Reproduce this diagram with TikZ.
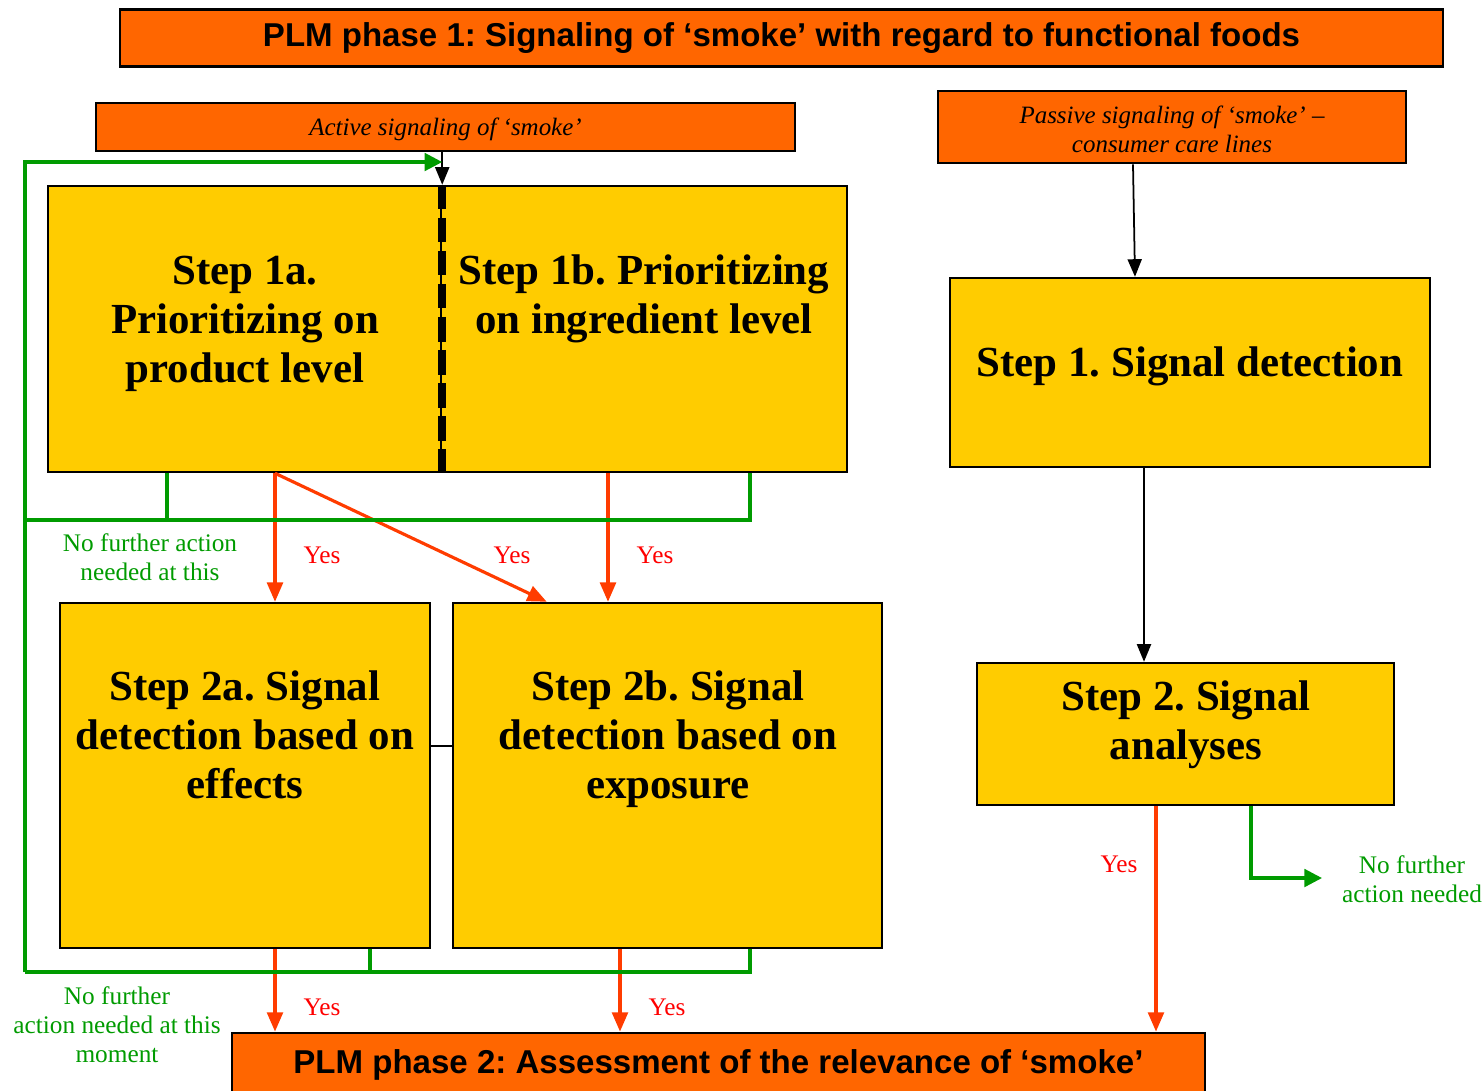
\documentclass[tikz,border=0pt]{standalone}
\usepackage{fontspec}
\setmainfont{Liberation Serif}
\newfontfamily\arialfont{Liberation Sans}
\usetikzlibrary{arrows.meta}
\usetikzlibrary{calc}

\definecolor{plmorange}{RGB}{255,102,0}
\definecolor{stepyellow}{RGB}{255,204,0}
\definecolor{nogreen}{RGB}{0,155,0}
\definecolor{yesred}{RGB}{255,60,0}

\tikzset{
    phasebox/.style={draw=black, line width=0.8pt, fill=plmorange, inner sep=0pt,
        font=\arialfont\bfseries\fontsize{9.4}{11}\selectfont},
    sigbox/.style={draw=black, line width=0.8pt, fill=plmorange, inner sep=0pt},
    sigtext/.style={align=center, font=\itshape\fontsize{7.1}{8.3}\selectfont},
    stepbox/.style={draw=black, line width=0.7pt, fill=stepyellow, inner sep=0pt},
    steptext/.style={align=center, font=\bfseries\fontsize{12.2}{14}\selectfont},
    flowline/.style={black, line width=0.5pt, -{Triangle[length=5pt,width=4pt]}},
    yesline/.style={yesred, line width=0.9pt, -{Triangle[length=5.5pt,width=4.5pt]}},
    noline/.style={nogreen, line width=0.9pt},
    noarrow/.style={nogreen, line width=0.9pt, -{Triangle[length=5pt,width=5pt]}},
    yestext/.style={text=red, font=\fontsize{7.2}{8.3}\selectfont},
    notext/.style={text=nogreen, align=center, font=\fontsize{7.2}{8.3}\selectfont}
}

\begin{document}
\frenchspacing
\begin{tikzpicture}
    \useasboundingbox (0,0) rectangle (14.83,-10.90);

    % phase boxes
    \node[phasebox, minimum width=13.23cm, minimum height=0.57cm] (phase1) at (7.815,-0.38)
        {PLM phase 1: Signaling of ‘smoke’ with regard to functional foods};
    \node[phasebox, minimum width=9.73cm, minimum height=0.64cm] (phase2) at (7.185,-10.65)
        {PLM phase 2: Assessment of the relevance of ‘smoke’};

    % signaling
    \node[sigbox, minimum width=6.99cm, minimum height=0.48cm] (active) at (4.455,-1.27) {};
    \node[sigtext] at (4.455,-1.29) {Active signaling of ‘smoke’};
    \node[sigbox, minimum width=4.68cm, minimum height=0.72cm] (passive) at (11.72,-1.27) {};
    \node[sigtext] at (11.72,-1.29) {Passive signaling of ‘smoke’ –\\consumer care lines};

    % steps, active route
    \node[stepbox, minimum width=3.93cm, minimum height=2.86cm] (s1a) at (2.445,-3.29) {};
    \node[stepbox, minimum width=4.06cm, minimum height=2.86cm] (s1b) at (6.44,-3.29) {};
    \node[stepbox, minimum width=3.70cm, minimum height=3.45cm] (s2a) at (2.45,-7.755) {};
    \node[stepbox, minimum width=4.29cm, minimum height=3.45cm] (s2b) at (6.675,-7.755) {};
    \draw[black, line width=2.4pt, dash pattern=on 7pt off 2.4pt] (s1a.north east) -- (s1a.south east);

    \node[steptext] at (2.45,-3.24) {Step 1a.\\Prioritizing on\\product level};
    \node[steptext] at (6.44,-2.99) {Step 1b. Prioritizing\\on ingredient level};
    \node[steptext] at (2.45,-7.35) {Step 2a. Signal\\detection based on\\effects};
    \node[steptext] at (6.68,-7.39) {Step 2b. Signal\\detection based on\\exposure};

    % steps, passive route
    \node[stepbox, minimum width=4.80cm, minimum height=1.89cm] (r1) at (11.90,-3.725) {};
    \node[stepbox, minimum width=4.17cm, minimum height=1.42cm] (r2) at (11.855,-7.34) {};
    \node[steptext] at (11.90,-3.66) {Step 1. Signal detection};
    \node[steptext] at (11.86,-7.25) {Step 2. Signal\\analyses};

    % black connectors
    \draw[flowline] (active.south -| s1a.north east) -- (s1a.north east);
    \draw[flowline] ($(passive.south)+(-0.39,0)$) -- ($(r1.north)+(-0.55,0)$);
    \coordinate (r1out) at ($(r1.south)+(-0.46,0)$);
    \draw[flowline] (r1out) -- (r1out |- r2.north);
    \draw[black, line width=0.5pt] ($(s2a.east)+(0,0.295)$) -- ($(s2b.west)+(0,0.295)$);

    % yes
    \coordinate (y1) at ($(s1a.south)+(0.305,0)$);
    \coordinate (y2) at ($(s1b.south)+(-0.36,0)$);
    \coordinate (y3) at ($(s2a.south)+(0.30,0)$);
    \coordinate (y4) at ($(s2b.south)+(-0.475,0)$);
    \coordinate (y5) at ($(r2.south)+(-0.295,0)$);
    \draw[yesline] (y1) -- (y1 |- s2a.north);
    \draw[yesline] (y1) -- ($(s2b.north west)+(0.95,0)$);
    \draw[yesline] (y2) -- (y2 |- s2b.north);
    \draw[yesline] (y3) -- (y3 |- phase2.north);
    \draw[yesline] (y4) -- (y4 |- phase2.north);
    \draw[yesline] (y5) -- (y5 |- phase2.north);

    % no further action
    \coordinate (gtop) at (0.25,-1.62);
    \coordinate (gmid) at (0.25,-5.20);
    \coordinate (gbot) at (0.25,-9.72);
    \coordinate (gend) at (13.22,-8.78);
    \draw[noline] ($(s1a.south)+(-0.775,0)$) |- (gmid);
    \draw[noline] ($(s1b.south)+(1.06,0)$) |- (gmid);
    \draw[noline] ($(s2a.south)+(1.25,0)$) |- (gbot);
    \draw[noline] ($(s2b.south)+(0.825,0)$) |- (gbot);
    \draw[noarrow] (gbot) -- (gtop) -- (gtop -| s1a.north east);
    \draw[noarrow] ($(r2.south)+(0.655,0)$) |- (gend);

    % labels
    \node[yestext] at (3.22,-5.55) {Yes};
    \node[yestext] at (5.12,-5.55) {Yes};
    \node[yestext] at (6.55,-5.55) {Yes};
    \node[yestext] at (3.22,-10.07) {Yes};
    \node[yestext] at (6.67,-10.07) {Yes};
    \node[yestext] at (11.19,-8.64) {Yes};
    \node[notext] at (1.50,-5.575) {No further action\\needed at this};
    \node[notext] at (1.17,-10.25) {No further\\action needed at this\\moment};
    \node[notext] at (14.12,-8.79) {No further\\action needed};
\end{tikzpicture}
\end{document}
